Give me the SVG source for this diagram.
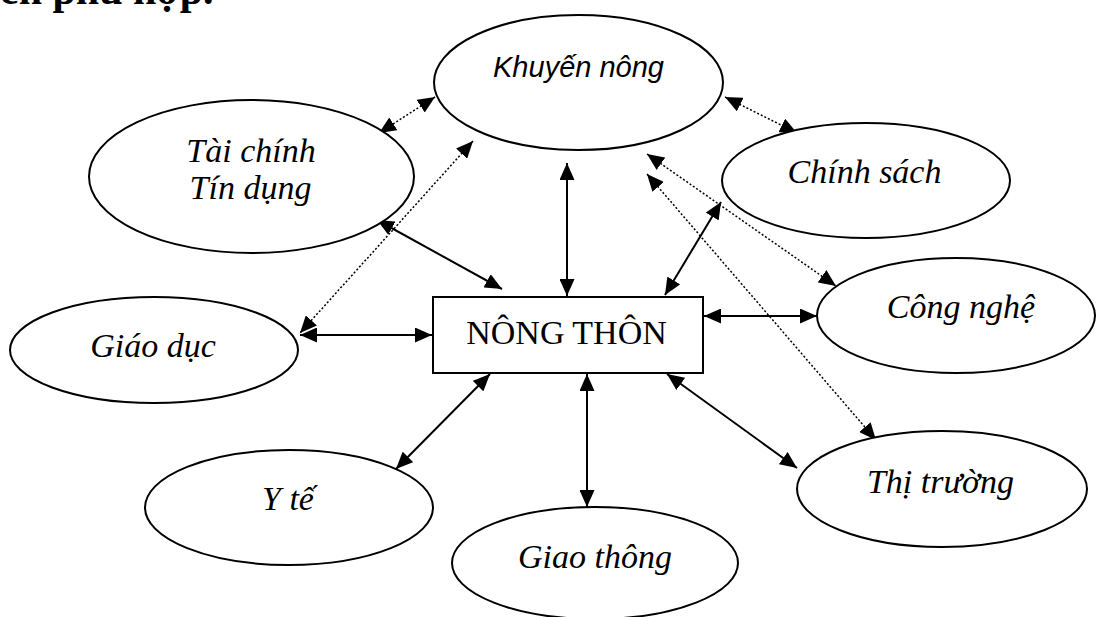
<svg xmlns="http://www.w3.org/2000/svg" width="1097" height="617" viewBox="0 0 1097 617">
<style>
.node{fill:#fff;stroke:#000;stroke-width:2}
.lbl{font-family:"Liberation Serif","Times New Roman",serif;font-size:34px;font-style:italic;fill:#000;text-anchor:middle}
.sans{font-family:"Liberation Sans",Arial,sans-serif;font-size:29px;font-style:italic;fill:#000;text-anchor:middle}
.solid{stroke:#000;stroke-width:2;fill:none;marker-start:url(#ah);marker-end:url(#ah)}
.dot{stroke:#000;stroke-width:1.5;stroke-dasharray:2 2;fill:none;marker-start:url(#ah);marker-end:url(#ah)}
</style>
<defs>
<marker id="ah" markerUnits="userSpaceOnUse" markerWidth="17" markerHeight="15" refX="17" refY="7.5" orient="auto-start-reverse">
<path d="M0,0 L17,7.5 L0,15 z" fill="#000"/>
</marker>
</defs>
<text x="0" y="4" font-family="Liberation Serif,serif" font-size="42" font-weight="bold" fill="#000">ên phù hợp.</text>
<g id="connectors">
<line class="solid" x1="567" y1="163" x2="567" y2="296"/>
<line class="solid" x1="377" y1="220" x2="502" y2="289"/>
<line class="solid" x1="721" y1="202" x2="665" y2="295"/>
<line class="solid" x1="300" y1="335" x2="432" y2="335"/>
<line class="solid" x1="704" y1="316" x2="817" y2="316"/>
<line class="solid" x1="490" y1="374" x2="396" y2="469"/>
<line class="solid" x1="587" y1="374" x2="587" y2="507"/>
<line class="solid" x1="667" y1="374" x2="797" y2="468"/>
<line class="dot" x1="435" y1="97" x2="379" y2="133"/>
<line class="dot" x1="473" y1="141" x2="300" y2="333"/>
<line class="dot" x1="725" y1="97" x2="797" y2="133"/>
<line class="dot" x1="647" y1="154" x2="836" y2="286"/>
<line class="dot" x1="647" y1="174" x2="876" y2="440"/>
</g>
<g id="khuyen-nong">
<ellipse class="node" cx="578.5" cy="82.5" rx="144.5" ry="67.5"/>
<text class="sans" x="578.5" y="77">Khuyến nông</text>
</g>
<g id="tai-chinh">
<ellipse class="node" cx="251.5" cy="176.5" rx="162.5" ry="76.5"/>
<text class="lbl" x="251" y="162">Tài chính</text>
<text class="lbl" x="250.5" y="199">Tín dụng</text>
</g>
<g id="chinh-sach">
<ellipse class="node" cx="866" cy="180.5" rx="144" ry="57.5"/>
<text class="lbl" x="864.5" y="183">Chính sách</text>
</g>
<g id="giao-duc">
<ellipse class="node" cx="154" cy="350" rx="144" ry="53"/>
<text class="lbl" x="153" y="357">Giáo dục</text>
</g>
<g id="nong-thon">
<rect class="node" x="433" y="297" width="270" height="76"/>
<text x="566.5" y="344" font-family="Liberation Serif,serif" font-size="34" fill="#000" text-anchor="middle">NÔNG THÔN</text>
</g>
<g id="cong-nghe">
<ellipse class="node" cx="956" cy="315.5" rx="139" ry="57.5"/>
<text class="lbl" x="961" y="318">Công nghệ</text>
</g>
<g id="y-te">
<ellipse class="node" cx="289" cy="507.5" rx="144" ry="57.5"/>
<text class="lbl" x="288" y="510">Y tế</text>
</g>
<g id="giao-thong">
<ellipse class="node" cx="595" cy="563" rx="143" ry="56"/>
<text class="lbl" x="595" y="568">Giao thông</text>
</g>
<g id="thi-truong">
<ellipse class="node" cx="942" cy="489" rx="145" ry="58"/>
<text class="lbl" x="940.5" y="493">Thị trường</text>
</g>
</svg>
